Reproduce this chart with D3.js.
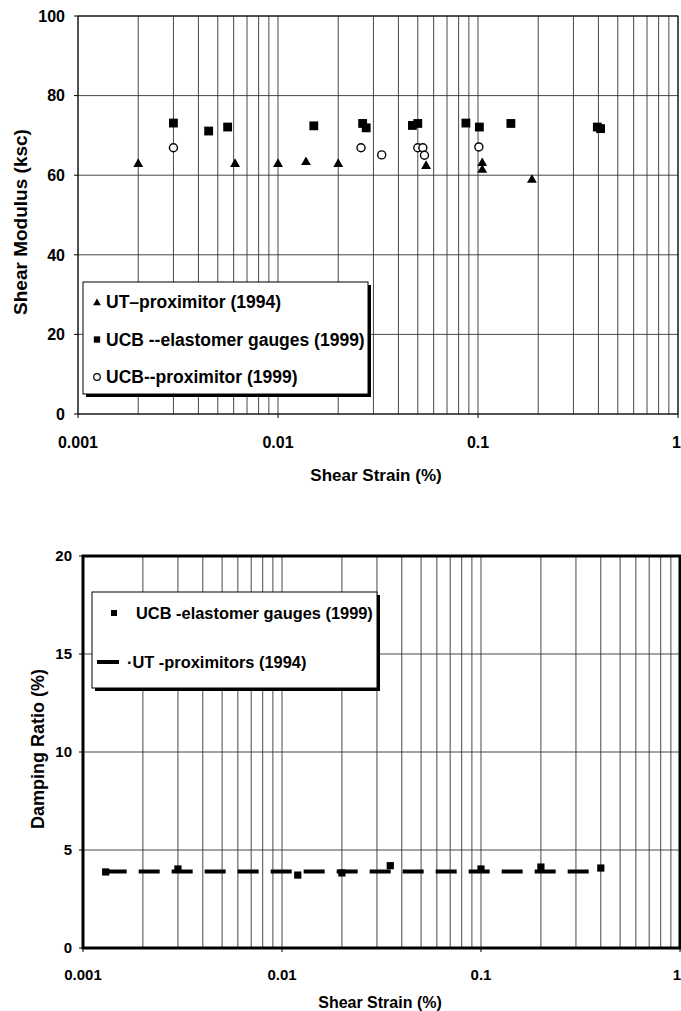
<!DOCTYPE html>
<meta charset="utf-8">
<script src="https://cdn.jsdelivr.net/npm/d3@7"></script>
<style>
  body { margin: 0; background: #fff; }
  text { font-family: "Liberation Sans", Arial, sans-serif; font-weight: bold; fill: #000; }
</style>
<div id="chart"></div>
<script>

// ---- data ----
// shear modulus (ksc) vs shear strain (%)
var utStrain   = [0.002, 0.0061, 0.01, 0.0138, 0.02, 0.055, 0.105, 0.105, 0.186];
var utG        = [62.8, 62.8, 62.8, 63.3, 62.8, 62.3, 63.0, 61.3, 58.8];
var ucbStrain  = [0.003, 0.0045, 0.0056, 0.0151, 0.0265, 0.0276, 0.047, 0.05, 0.087, 0.1016, 0.146, 0.395, 0.41];
var ucbG       = [73.1, 71.1, 72.1, 72.4, 73.0, 71.9, 72.5, 73.0, 73.1, 72.1, 73.0, 72.1, 71.7];
var proxStrain = [0.003, 0.026, 0.033, 0.05, 0.053, 0.054, 0.101];
var proxG      = [66.9, 66.9, 65.1, 66.9, 66.9, 65.0, 67.1];

// damping ratio (%) vs shear strain (%)
var dampStrain = [0.0013, 0.003, 0.012, 0.02, 0.035, 0.1, 0.2, 0.4];
var dampUCB    = [3.88, 4.03, 3.72, 3.83, 4.2, 4.03, 4.13, 4.08];
var dampUT     = [3.9, 3.9, 3.9, 3.9, 3.9, 3.9, 3.9, 3.9];

var xTicks = [0.001, 0.01, 0.1, 1];
var xTickLabels = ["0.001", "0.01", "0.1", "1"];
var gTicks = [0, 20, 40, 60, 80, 100];
var dTicks = [0, 5, 10, 15, 20];

var svg = d3.select("#chart").append("svg")
    .attr("width", 681)
    .attr("height", 1011);

function zip(a, b) { return a.map(function(d, i) { return {x: d, y: b[i]}; }); }

// minor log grid values 0.001 .. 1
var minorVals = [];
[0.001, 0.01, 0.1].forEach(function(dec) {
  for (var k = 1; k <= 9; k++) minorVals.push(dec * k);
});
minorVals.push(1);

function drawFrame(g, x, y, yTicks, opts) {
  var x0 = x.range()[0], x1 = x.range()[1], y0 = y.range()[0], y1 = y.range()[1];

  // vertical grid (log minor)
  g.selectAll(".vgrid").data(minorVals).enter().append("line")
    .attr("x1", function(d) { return x(d); }).attr("x2", function(d) { return x(d); })
    .attr("y1", y1).attr("y2", y0)
    .attr("stroke", "#333").attr("stroke-width", 0.9);

  // horizontal grid
  g.selectAll(".hgrid").data(yTicks).enter().append("line")
    .attr("x1", x0).attr("x2", x1)
    .attr("y1", function(d) { return y(d); }).attr("y2", function(d) { return y(d); })
    .attr("stroke", "#333").attr("stroke-width", 0.9);

  // small outside ticks
  g.selectAll(".ytk").data(yTicks).enter().append("line")
    .attr("x1", x0 - 4).attr("x2", x0)
    .attr("y1", function(d) { return y(d); }).attr("y2", function(d) { return y(d); })
    .attr("stroke", "#000").attr("stroke-width", 1);
  g.selectAll(".xtk").data(xTicks).enter().append("line")
    .attr("x1", function(d) { return x(d); }).attr("x2", function(d) { return x(d); })
    .attr("y1", y0).attr("y2", y0 + 4)
    .attr("stroke", "#000").attr("stroke-width", 1);

  // border
  g.append("rect")
    .attr("x", x0).attr("y", y1)
    .attr("width", x1 - x0).attr("height", y0 - y1)
    .attr("fill", "none").attr("stroke", "#000")
    .attr("stroke-width", opts.border);

  // tick labels
  g.selectAll(".ylab").data(yTicks).enter().append("text")
    .attr("x", opts.yLabX)
    .attr("y", function(d) { return y(d); })
    .attr("dy", "0.36em")
    .attr("text-anchor", "end")
    .style("font-size", opts.tickSize + "px")
    .text(function(d) { return d; });
  g.selectAll(".xlab").data(xTicks).enter().append("text")
    .attr("x", function(d, i) { return i === xTicks.length - 1 ? 681 : x(d); })
    .attr("y", opts.xLabY)
    .attr("text-anchor", function(d, i) { return i === xTicks.length - 1 ? "end" : "middle"; })
    .style("font-size", opts.tickSize + "px")
    .text(function(d, i) { return xTickLabels[i]; });

  // axis titles
  g.append("text")
    .attr("x", opts.xTitleX).attr("y", opts.xTitleY)
    .attr("text-anchor", "middle")
    .style("font-size", opts.xTitleSize + "px")
    .text("Shear Strain (%)");
  g.append("text")
    .attr("transform", "translate(" + opts.yTitleX + "," + opts.yTitleY + ") rotate(-90)")
    .attr("text-anchor", "middle")
    .attr("dy", "0.35em")
    .style("font-size", opts.yTitleSize + "px")
    .text(opts.yTitle);
}

function legendBox(g, bx, by, bw, bh) {
  g.append("rect").attr("x", bx + 3).attr("y", by + 3).attr("width", bw).attr("height", bh)
    .attr("fill", "#000");
  g.append("rect").attr("x", bx).attr("y", by).attr("width", bw).attr("height", bh)
    .attr("fill", "#fff").attr("stroke", "#000").attr("stroke-width", 1);
}

// ================= top chart: shear modulus =================
var xG = d3.scaleLog().domain([0.001, 1]).range([78, 678]);
var yG = d3.scaleLinear().domain([0, 100]).range([414, 16]);
var gTop = svg.append("g");

drawFrame(gTop, xG, yG, gTicks, {
  border: 1, yLabX: 65, xLabY: 448, tickSize: 16,
  xTitleX: 376, xTitleY: 481, xTitleSize: 17,
  yTitleX: 20, yTitleY: 222, yTitleSize: 19, yTitle: "Shear Modulus (ksc)"
});

var tri = d3.symbol().type(d3.symbolTriangle).size(42);
var sq = d3.symbol().type(d3.symbolSquare).size(78);

gTop.selectAll(".ut").data(zip(utStrain, utG)).enter().append("path")
  .attr("d", tri)
  .attr("transform", function(d) { return "translate(" + xG(d.x) + "," + yG(d.y) + ")"; })
  .attr("fill", "#000");
gTop.selectAll(".ucb").data(zip(ucbStrain, ucbG)).enter().append("path")
  .attr("d", sq)
  .attr("transform", function(d) { return "translate(" + xG(d.x) + "," + yG(d.y) + ")"; })
  .attr("fill", "#000");
gTop.selectAll(".prox").data(zip(proxStrain, proxG)).enter().append("circle")
  .attr("cx", function(d) { return xG(d.x); })
  .attr("cy", function(d) { return yG(d.y); })
  .attr("r", 4)
  .attr("fill", "#fff").attr("stroke", "#000").attr("stroke-width", 1.4);

// legend
legendBox(gTop, 83, 282, 285, 112);
var legTop = [
  {label: "UT\u2013proximitor (1994)", kind: "tri"},
  {label: "UCB --elastomer gauges (1999)", kind: "sq"},
  {label: "UCB--proximitor (1999)", kind: "circ"}
];
legTop.forEach(function(d, i) {
  var cy = 302 + i * 37.5;
  if (d.kind === "tri") {
    gTop.append("path").attr("d", d3.symbol().type(d3.symbolTriangle).size(26)())
      .attr("transform", "translate(97," + (cy + 1) + ")").attr("fill", "#000");
  } else if (d.kind === "sq") {
    gTop.append("path").attr("d", d3.symbol().type(d3.symbolSquare).size(40)())
      .attr("transform", "translate(97," + cy + ")").attr("fill", "#000");
  } else {
    gTop.append("circle").attr("cx", 97).attr("cy", cy).attr("r", 3.3)
      .attr("fill", "#fff").attr("stroke", "#000").attr("stroke-width", 1.2);
  }
  gTop.append("text").attr("x", 106).attr("y", cy + 6)
    .style("font-size", "17.5px")
    .text(d.label);
});

// ================= bottom chart: damping ratio =================
var xD = d3.scaleLog().domain([0.001, 1]).range([83, 680]);
var yD = d3.scaleLinear().domain([0, 20]).range([948, 556]);
var gBot = svg.append("g");

drawFrame(gBot, xD, yD, dTicks, {
  border: 3, yLabX: 72, xLabY: 980, tickSize: 15,
  xTitleX: 380, xTitleY: 1008, xTitleSize: 16,
  yTitleX: 38, yTitleY: 749, yTitleSize: 18, yTitle: "Damping Ratio (%)"
});

gBot.append("path")
  .datum(zip(dampStrain, dampUT))
  .attr("d", d3.line().x(function(d) { return xD(d.x); }).y(function(d) { return yD(d.y); }))
  .attr("fill", "none").attr("stroke", "#000")
  .attr("stroke-width", 4).attr("stroke-dasharray", "21,12");

gBot.selectAll(".dsq").data(zip(dampStrain, dampUCB)).enter().append("path")
  .attr("d", d3.symbol().type(d3.symbolSquare).size(52)())
  .attr("transform", function(d) { return "translate(" + xD(d.x) + "," + yD(d.y) + ")"; })
  .attr("fill", "#000");

// legend
legendBox(gBot, 92, 592, 285, 96);
gBot.append("path").attr("d", d3.symbol().type(d3.symbolSquare).size(36)())
  .attr("transform", "translate(114,613)").attr("fill", "#000");
gBot.append("text").attr("x", 136).attr("y", 619)
  .style("font-size", "16.4px").text("UCB -elastomer gauges (1999)");
gBot.append("line").attr("x1", 97).attr("x2", 119).attr("y1", 662).attr("y2", 662)
  .attr("stroke", "#000").attr("stroke-width", 4);
gBot.append("text").attr("x", 127).attr("y", 668)
  .style("font-size", "16.4px").text("\u00b7UT -proximitors (1994)");

</script>
